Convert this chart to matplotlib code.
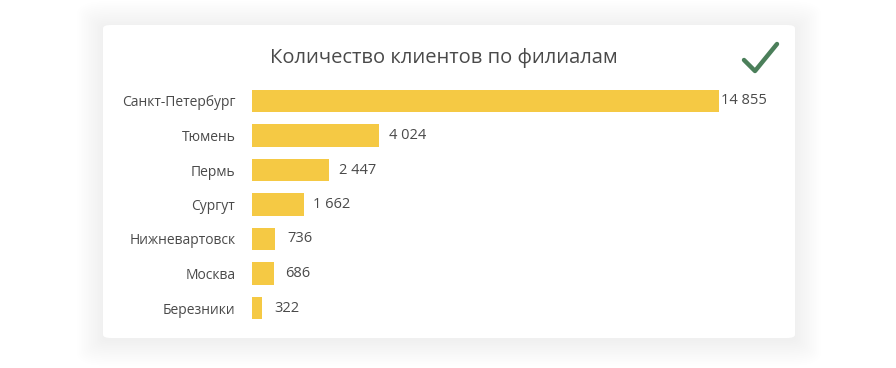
import numpy as np
import matplotlib.pyplot as plt
from matplotlib.patches import FancyBboxPatch
from matplotlib.lines import Line2D

branches = ["Санкт-Петербург", "Тюмень", "Пермь", "Сургут",
            "Нижневартовск", "Москва", "Березники"]
clients = [14855, 4024, 2447, 1662, 736, 686, 322]
value_labels = ["14 855", "4 024", "2 447", "1 662", "736", "686", "322"]

plt.rcParams["font.family"] = ["Open Sans", "DejaVu Sans"]

W, H = 896, 368
fig = plt.figure(figsize=(W / 100, H / 100), dpi=100)
fig.patch.set_facecolor("white")


def fx(x):
    return x / W


def fy(y):
    return 1 - y / H


# карточка с мягкой тенью
for d in np.linspace(26, 1, 15):
    fig.patches.append(FancyBboxPatch(
        (fx(103 - d), fy(340 + d)), fx(692 + 2 * d), (313 + 2 * d) / H,
        boxstyle="round,pad=0,rounding_size=%f" % ((6 + d) / W),
        transform=fig.transFigure,
        facecolor="black", edgecolor="none", alpha=0.0045, zorder=0))
fig.patches.append(FancyBboxPatch(
    (fx(103), fy(338)), fx(692), 313 / H,
    boxstyle="round,pad=0,rounding_size=0.009", transform=fig.transFigure,
    facecolor="white", edgecolor="none", zorder=1))

fig.text(fx(444), fy(58), "Количество клиентов по филиалам",
         ha="center", va="center", fontsize=14.5, color="#4a4a4a")

# галочка
fig.lines.append(Line2D([fx(744), fx(755), fx(777)], [fy(60), fy(71), fy(44)],
                       transform=fig.transFigure, color="#4b7f5a", lw=3.2,
                       solid_capstyle="round", solid_joinstyle="round", zorder=3))

ax = fig.add_axes([fx(252), fy(325.25), fx(467), 241.5 / H])
ax.set_facecolor("none")
ax.set_zorder(2)
y = range(len(branches))
ax.barh(y, clients, height=0.64, color="#f5c944")
ax.set_xlim(0, 14855)
ax.set_ylim(6.5, -0.5)
ax.set_yticks(list(y))
ax.set_yticklabels(branches, fontsize=10, color="#4a4a4a")
ax.tick_params(axis="y", length=0, pad=12)
ax.set_xticks([])
for s in ax.spines.values():
    s.set_visible(False)

pads = [2, 10, 10, 9, 12, 12, 12]
for i, (v, lab) in enumerate(zip(clients, value_labels)):
    ax.annotate(lab, (v, i), xytext=(pads[i], 0), textcoords="offset pixels",
                ha="left", va="center", fontsize=10.5, color="#4a4a4a")

fig.savefig("out.png", dpi=100, facecolor=fig.get_facecolor())
